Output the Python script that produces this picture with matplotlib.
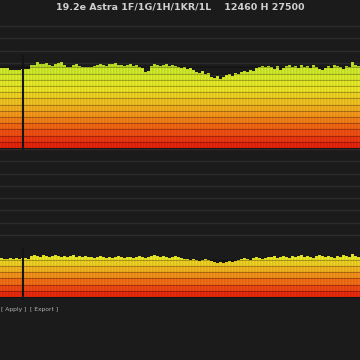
import matplotlib
matplotlib.use("Agg")
import matplotlib.pyplot as plt
import numpy as np
from matplotlib.colors import LinearSegmentedColormap

# --- data: spectrum levels per bin (one bar per bin) ---
title = "19.2e Astra 1F/1G/1H/1KR/1L    12460 H 27500"
button_labels = ["[ Apply ]", "[ Export ]"]

upper_levels = [
    80, 80, 80, 78, 78, 78, 78, 79, 79, 79,
    83, 83, 86, 84, 84, 85, 83, 82, 84, 85,
    86, 83, 81, 81, 83, 84, 82, 81, 81, 81,
    81, 82, 83, 84, 83, 82, 84, 84, 85, 83,
    83, 82, 83, 84, 82, 83, 81, 80, 76, 77,
    82, 84, 83, 82, 83, 84, 82, 83, 82, 81,
    80, 81, 79, 80, 78, 76, 75, 77, 74, 75,
    71, 70, 72, 69, 71, 73, 74, 72, 75, 74,
    76, 77, 76, 78, 77, 80, 81, 82, 81, 82,
    81, 79, 82, 78, 80, 82, 83, 81, 82, 80,
    83, 81, 82, 80, 83, 81, 79, 78, 80, 82,
    80, 83, 82, 81, 79, 82, 81, 86, 83, 82,
]

lower_levels = [
    39, 38, 38, 39, 38, 39, 38, 39, 39, 38,
    41, 42, 41, 40, 42, 41, 40, 41, 42, 41,
    40, 41, 40, 41, 42, 40, 41, 40, 41, 40,
    40, 39, 40, 41, 40, 39, 40, 39, 40, 41,
    40, 39, 40, 40, 39, 40, 41, 40, 39, 40,
    41, 42, 41, 40, 41, 40, 39, 40, 41, 40,
    39, 38, 38, 37, 38, 37, 36, 37, 38, 37,
    36, 35, 34, 35, 34, 35, 36, 35, 36, 37,
    38, 39, 38, 37, 39, 40, 39, 38, 39, 40,
    40, 41, 39, 40, 41, 40, 39, 41, 40, 41,
    42, 40, 41, 40, 39, 41, 42, 41, 40, 41,
    40, 39, 41, 40, 42, 41, 40, 43, 41, 40,
]
marker_bin = 7.3  # position of the dark marker line

BG = "#1b1b1b"
SEG = 6.2

level_cmap = LinearSegmentedColormap.from_list("level", [
    (0.00, "#e41c0a"), (0.12, "#ee3c10"), (0.25, "#f26a14"),
    (0.40, "#f5a01c"), (0.55, "#f0cc22"), (0.68, "#ecec26"),
    (0.85, "#d2ec2a"), (1.00, "#aadc24"),
])


def draw_meter(ax, levels, vmax):
    levels = np.asarray(levels, dtype=float)
    x = np.arange(len(levels))
    n_seg = int(np.ceil(levels.max() / SEG))
    for k in range(n_seg):
        base = k * SEG
        h = np.clip(levels - base, 0, SEG)
        color = level_cmap(min((base + SEG / 2) / vmax, 1.0))
        ax.bar(x, h, bottom=base, width=1.0, color=color,
               edgecolor=(0, 0, 0, 0.18), linewidth=0.3)
        ax.axhline(base, color="black", alpha=0.25, lw=0.6)
    ax.set_xlim(-0.5, len(levels) - 0.5)
    # marker line across the panel
    ax.axvline(marker_bin, color="#141414", lw=1.5, zorder=10)
    ax.set_facecolor("none")
    ax.axis("off")


fig = plt.figure(figsize=(3.6, 3.6), dpi=100)
fig.patch.set_facecolor(BG)

# background grid over the whole page
bg = fig.add_axes([0, 0, 1, 1])
bg.set_xlim(0, 360)
bg.set_ylim(360, 0)
bg.axis("off")
for gy in np.arange(26, 245, 12.3):
    bg.axhline(gy, color="#2c2c2c", lw=1.0)
bg.text(180, 7, title, ha="center", va="center", fontsize=6.8,
        fontweight="bold", color="#cfcfcf")
bg.text(1, 309, button_labels[0], ha="left", va="center", fontsize=4.3, color="#b4b4b4")
bg.text(30, 309, button_labels[1], ha="left", va="center", fontsize=4.3, color="#b4b4b4")

# upper spectrum
ax1 = fig.add_axes([0, 1 - 150 / 360, 1, 95 / 360])
draw_meter(ax1, upper_levels, vmax=90)
ax1.set_ylim(-2, 93)
ax1.axhline(-1.5, color="#6a1410", lw=1.0)

# lower spectrum
ax2 = fig.add_axes([0, 60 / 360, 1, 52 / 360])
draw_meter(ax2, lower_levels, vmax=60)
ax2.set_ylim(-3, 49)

fig.savefig("out.png", dpi=100, facecolor=BG)
